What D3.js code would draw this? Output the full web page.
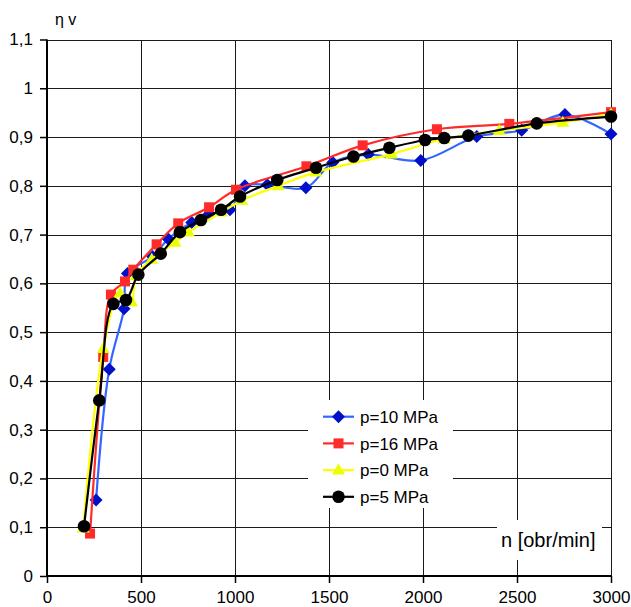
<!DOCTYPE html>
<html>
<head>
<meta charset="utf-8">
<script src="https://cdn.jsdelivr.net/npm/d3@7"></script>
<style>
  html, body { margin: 0; padding: 0; background: #fff; }
  svg { display: block; }
  text { font-family: "Liberation Sans", Arial, Helvetica, sans-serif; fill: #000; }
</style>
</head>
<body>
<svg id="chart" width="631" height="607"></svg>
<script>
// ---- data ----
const xTicks = [0, 500, 1000, 1500, 2000, 2500, 3000];
const yTicks = [0, 0.1, 0.2, 0.3, 0.4, 0.5, 0.6, 0.7, 0.8, 0.9, 1.0, 1.1];

const seriesNames = ["p=10 MPa", "p=16 MPa", "p=0 MPa", "p=5 MPa"];

const nP10   = [261, 331, 410, 428, 562, 645, 770, 862, 973, 1053, 1172, 1377, 1520, 1709, 1988, 2286, 2525, 2755, 3000];
const etaP10 = [0.156, 0.424, 0.548, 0.620, 0.655, 0.691, 0.725, 0.742, 0.751, 0.800, 0.802, 0.796, 0.848, 0.864, 0.852, 0.901, 0.914, 0.946, 0.906];

const nP16   = [229, 299, 340, 415, 459, 583, 698, 862, 1005, 1380, 1679, 2074, 2459, 3000];
const etaP16 = [0.087, 0.449, 0.577, 0.604, 0.628, 0.680, 0.723, 0.756, 0.792, 0.840, 0.883, 0.916, 0.927, 0.951];

const nP0    = [193, 299, 388, 450, 473, 557, 681, 752, 929, 1036, 1230, 1431, 1833, 2112, 2406, 2743, 3000];
const etaP0  = [0.098, 0.466, 0.580, 0.562, 0.616, 0.649, 0.684, 0.705, 0.746, 0.770, 0.800, 0.828, 0.865, 0.896, 0.913, 0.930, 0.947];

const nP5    = [197, 278, 353, 420, 486, 605, 707, 819, 926, 1027, 1225, 1431, 1630, 1821, 2011, 2113, 2241, 2605, 3000];
const etaP5  = [0.102, 0.360, 0.558, 0.566, 0.618, 0.661, 0.705, 0.730, 0.751, 0.778, 0.812, 0.837, 0.860, 0.878, 0.894, 0.898, 0.903, 0.928, 0.942];

// ---- layout ----
const svg = d3.select("#chart");
const x = d3.scaleLinear().domain([0, 3000]).range([47, 611]);
const y = d3.scaleLinear().domain([0, 1.1]).range([576, 39.5]);

const series = [
  { name: seriesNames[0], n: nP10, eta: etaP10, line: "#3366ff", fill: "#0010c8", shape: "diamond" },
  { name: seriesNames[1], n: nP16, eta: etaP16, line: "#ff2a2a", fill: "#ff2a2a", shape: "square" },
  { name: seriesNames[2], n: nP0,  eta: etaP0,  line: "#ffff00", fill: "#eaff00", shape: "triangle" },
  { name: seriesNames[3], n: nP5,  eta: etaP5,  line: "#000000", fill: "#000000", shape: "circle" }
];

// gridlines
const grid = svg.append("g").attr("shape-rendering", "crispEdges");
grid.selectAll("line.h").data(yTicks.filter(d => d > 0)).join("line")
  .attr("x1", x(0)).attr("x2", x(3000))
  .attr("y1", d => Math.round(y(d)) + 0.5).attr("y2", d => Math.round(y(d)) + 0.5)
  .attr("stroke", "#1a1a1a").attr("stroke-width", 1);
grid.selectAll("line.v").data(xTicks.filter(d => d > 0)).join("line")
  .attr("y1", y(0)).attr("y2", y(1.1))
  .attr("x1", d => Math.round(x(d)) + 0.5).attr("x2", d => Math.round(x(d)) + 0.5)
  .attr("stroke", "#1a1a1a").attr("stroke-width", 1);

// axes
const fmt = d => d === 0 ? "0" : (d === 1 ? "1" : d3.format(".1f")(d).replace(".", ","));
const yAxis = svg.append("g").attr("transform", `translate(${x(0)},0)`)
  .call(d3.axisLeft(y).tickValues(yTicks).tickSize(7).tickPadding(7).tickFormat(fmt));
const xAxis = svg.append("g").attr("transform", `translate(0,${y(0)})`)
  .call(d3.axisBottom(x).tickValues(xTicks).tickSize(7).tickPadding(8).tickFormat(d3.format("d")));
[yAxis, xAxis].forEach(a => {
  a.select(".domain").attr("stroke", "#000").attr("stroke-width", 2);
  a.selectAll(".tick line").attr("stroke", "#000").attr("stroke-width", 1.5);
  a.selectAll("text").attr("font-size", 17).attr("font-family", "'Liberation Sans', Arial, sans-serif").attr("fill", "#000");
});
yAxis.select(".domain").attr("d", `M0,${y(1.1)}V${y(0)}`);
xAxis.select(".domain").attr("d", `M${x(0)},0H${x(3000)}`);

// markers
function drawMarker(g, shape, fill, cx, cy) {
  if (shape === "circle") {
    g.append("circle").attr("cx", cx).attr("cy", cy).attr("r", 6.3).attr("fill", fill);
  } else if (shape === "square") {
    g.append("rect").attr("x", cx - 5).attr("y", cy - 5).attr("width", 10).attr("height", 10).attr("fill", fill);
  } else if (shape === "diamond") {
    const r = 6.5;
    g.append("path").attr("d", `M${cx},${cy - r}L${cx + r},${cy}L${cx},${cy + r}L${cx - r},${cy}Z`).attr("fill", fill);
  } else if (shape === "triangle") {
    const h = 11, w = 13;
    g.append("path").attr("d", `M${cx},${cy - h * 0.6}L${cx + w / 2},${cy + h * 0.4}L${cx - w / 2},${cy + h * 0.4}Z`).attr("fill", fill);
  }
}

const lineGen = d3.line().x(d => x(d[0])).y(d => y(d[1])).curve(d3.curveCatmullRom.alpha(0.5));
series.forEach(s => {
  const pts = s.n.map((v, i) => [v, s.eta[i]]);
  const g = svg.append("g");
  g.append("path").attr("d", lineGen(pts)).attr("fill", "none")
    .attr("stroke", s.line).attr("stroke-width", 2.2).attr("stroke-linejoin", "round");
  pts.forEach(p => drawMarker(g, s.shape, s.fill, x(p[0]), y(p[1])));
});

// legend
const lg = svg.append("g");
lg.append("rect").attr("x", 308).attr("y", 400).attr("width", 145).attr("height", 108).attr("fill", "#fff");
series.forEach((s, i) => {
  const cy = 416.7 + i * 26.7;
  lg.append("line").attr("x1", 323).attr("x2", 354).attr("y1", cy).attr("y2", cy)
    .attr("stroke", s.line).attr("stroke-width", 2.2);
  drawMarker(lg, s.shape, s.fill, 338.5, cy);
  lg.append("text").attr("x", 360).attr("y", cy + 6.2).attr("font-size", 17).text(s.name);
});

// axis titles
svg.append("rect").attr("x", 497).attr("y", 520).attr("width", 105).attr("height", 40).attr("fill", "#fff");
svg.append("text").attr("x", 501).attr("y", 547).attr("font-size", 20).text("n [obr/min]");
svg.append("text").attr("x", 55).attr("y", 25).attr("font-size", 16).text("η v");
</script>
</body>
</html>
